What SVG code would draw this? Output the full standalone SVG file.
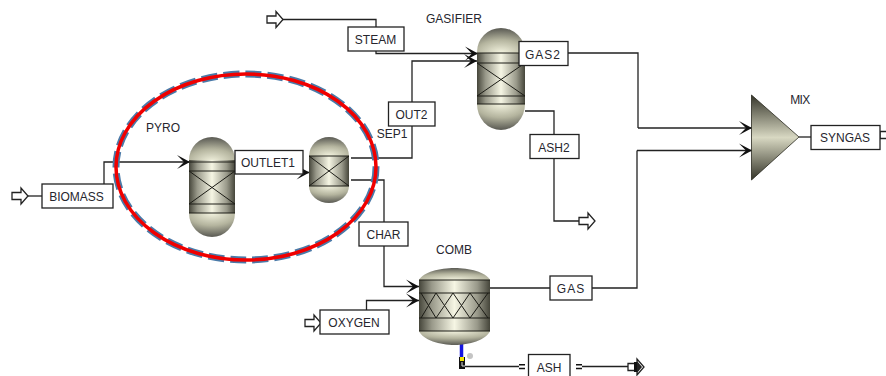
<svg xmlns="http://www.w3.org/2000/svg" width="886" height="376" viewBox="0 0 886 376">
<style>
text{font-family:"Liberation Sans",Arial,sans-serif;font-size:12px;fill:#26262e;text-anchor:middle}
.box{fill:#fff;stroke:#222;stroke-width:1.3}
.ln{fill:none;stroke:#222;stroke-width:1.3}
.arr{marker-end:url(#head)}
.body{fill:url(#metal);stroke:none}
.top{fill:url(#domeTop)}
.bot{fill:url(#domeBot)}
.band{fill:none;stroke:#1c1c16;stroke-width:1}
.open{fill:#fff;stroke:#222;stroke-width:1.3}
.wide{letter-spacing:1px}
</style>
<defs>
<linearGradient id="metal" x1="0" y1="0" x2="1" y2="0">
<stop offset="0" stop-color="#45453a"/><stop offset=".18" stop-color="#99998a"/><stop offset=".5" stop-color="#f6f6e4"/><stop offset=".82" stop-color="#99998a"/><stop offset="1" stop-color="#45453a"/>
</linearGradient>
<radialGradient id="domeTop" cx=".5" cy="1" r=".95">
<stop offset="0" stop-color="#f4f4e0"/><stop offset=".55" stop-color="#b4b49e"/><stop offset="1" stop-color="#62625a"/>
</radialGradient>
<radialGradient id="domeBot" cx=".5" cy="0" r=".95">
<stop offset="0" stop-color="#f4f4e0"/><stop offset=".55" stop-color="#b4b49e"/><stop offset="1" stop-color="#62625a"/>
</radialGradient>
<linearGradient id="tri" x1="0" y1="0" x2="0" y2="1">
<stop offset="0" stop-color="#35352a"/><stop offset=".5" stop-color="#d8d8c2"/><stop offset="1" stop-color="#35352a"/>
</linearGradient>
<marker id="head" markerUnits="userSpaceOnUse" markerWidth="16" markerHeight="16" refX="14" refY="8" orient="auto">
<path d="M14 8L1 1L8 8L1 15Z" fill="#111"/>
</marker>
<path id="openArrow" d="M0 -3.500H9V-8L16 0L9 8V3.500H0Z"/>
</defs>

<g id="connectors">
<path class="ln" d="M27 196H42"/>
<path class="ln arr" d="M104 184V162H190"/>
<path class="ln arr" d="M235 172.500H309.500"/>
<path class="ln" d="M281 19.500H376V27"/>
<path class="ln arr" d="M376 51V53.500H478"/>
<path class="ln arr" d="M351 158H412V61H477"/>
<path class="ln" d="M525 53H638V128"/>
<path class="ln arr" d="M638 128H752"/>
<path class="ln" d="M525 111H554V221H579"/>
<path class="ln" d="M351 180H384V222"/>
<path class="ln arr" d="M384 246V286.500H419"/>
<path class="ln arr" d="M366.500 310V300.500H419"/>
<path class="ln" d="M490 288H637V150.500"/>
<path class="ln arr" d="M637 150.500H752"/>
<path class="ln" d="M799 137H811"/>
<path class="ln" d="M465 366.500H519M582 366.500H628"/>
<path d="M519 364.800h6M519 368.500h6M576 364.800h6M576 368.500h6" fill="none" stroke="#111" stroke-width="1.600"/>
<path d="M461.500 342V357" fill="none" stroke="#1414e0" stroke-width="3.500"/>
<path d="M459 357h6v12h-6z" fill="#111"/>
<rect x="460" y="357" width="4" height="4" fill="#f2e500"/>
<path d="M462 362v4h3" fill="none" stroke="#ddd" stroke-width="1"/>
<circle cx="470" cy="356" r="3" fill="#c4c4c4"/>
</g>

<g id="biomass-feed"><use href="#openArrow" x="12" y="196" class="open"/></g>
<g id="steam-feed"><use href="#openArrow" x="267" y="19.500" class="open"/></g>
<g id="ash2-out"><use href="#openArrow" x="579" y="221" class="open"/></g>
<g id="oxygen-feed"><use href="#openArrow" x="305" y="323" class="open"/></g>
<g id="ash-out"><use href="#openArrow" x="628" y="367" class="open"/><path d="M634 362h3.500v10H634z" fill="#111"/><path d="M637 361l5 6l-5 6z" fill="#222"/></g>
<g id="syngas-out"><use href="#openArrow" x="880" y="135" class="open"/></g>

<g id="PYRO">
<path class="top" d="M189 162V160A23 23 0 0 1 235 160V162Z"/>
<rect class="body" x="189" y="160" width="46" height="54"/>
<path class="bot" d="M189 213A23 24 0 0 0 235 213Z"/>
<path class="band" d="M189 162H235M189 171H235M189 204H235M189 213H235M189 171L235 204M235 171L189 204"/>
<text x="163" y="132">PYRO</text>
</g>

<g id="SEP1">
<path class="top" d="M309 156A20 19 0 0 1 349 156Z"/>
<rect class="body" x="309" y="156" width="40" height="30"/>
<path class="bot" d="M309 186A20 17 0 0 0 349 186Z"/>
<path class="band" d="M309 156H349M309 186H349M309 156L349 186M349 156L309 186"/>
<text x="392" y="138">SEP1</text>
</g>

<g id="GASIFIER">
<path class="top" d="M477 53V52A24 24 0 0 1 525 52V53Z"/>
<rect class="body" x="477" y="53" width="48" height="51"/>
<path class="bot" d="M477 104A24 26 0 0 0 525 104Z"/>
<path class="band" d="M477 53H525M477 63H525M477 96H525M477 104H525M477 63L525 96M525 63L477 96"/>
<text x="454" y="23">GASIFIER</text>
</g>

<g id="COMB">
<path class="top" d="M419 280C423 272 440 268 454.500 268S486 272 490 280Z"/>
<rect class="body" x="419" y="280" width="71" height="51"/>
<path class="bot" d="M419 331C423 340 440 345 454.500 345S486 340 490 331Z"/>
<path class="band" d="M419 280H490M419 293H490M419 318H490M419 331H490"/>
<path class="band" d="M421 293L436 318L453 293L470 318L488 293M421 318L436 293L453 318L470 293L488 318"/>
<text x="454" y="254">COMB</text>
</g>

<g id="MIX">
<path d="M751.500 95L799 137L751.500 180Z" fill="url(#tri)" stroke="#2a2a20" stroke-width=".8"/>
<text x="800" y="104" style="letter-spacing:-.6px">MIX</text>
</g>

<g id="BIOMASS"><rect class="box" x="42" y="184" width="71" height="24"/><text x="76.500" y="201">BIOMASS</text></g>
<g id="OUTLET1"><rect class="box" x="235" y="150.500" width="68" height="23.500"/><text x="268" y="167">OUTLET1</text></g>
<g id="STEAM"><rect class="box" x="348" y="27" width="56" height="24"/><text x="375.500" y="44">STEAM</text></g>
<g id="OUT2"><rect class="box" x="388.500" y="102" width="46.500" height="24"/><text x="411.500" y="119">OUT2</text></g>
<g id="GAS2"><rect class="box" x="519" y="41.500" width="49" height="24"/><text class="wide" x="543" y="58.500">GAS2</text></g>
<g id="ASH2"><rect class="box" x="530" y="134.500" width="49" height="24"/><text x="554" y="151.500">ASH2</text></g>
<g id="CHAR"><rect class="box" x="359" y="222" width="49" height="24"/><text x="383.500" y="239">CHAR</text></g>
<g id="OXYGEN"><rect class="box" x="320" y="310" width="69" height="24"/><text x="354" y="327">OXYGEN</text></g>
<g id="GAS"><rect class="box" x="550" y="276" width="42" height="24"/><text class="wide" x="571" y="293">GAS</text></g>
<g id="ASH"><rect class="box" x="528.500" y="354.500" width="41.500" height="24"/><text x="549" y="371.500">ASH</text></g>
<g id="SYNGAS"><rect class="box" x="811" y="125.500" width="69" height="24"/><text x="845" y="142">SYNGAS</text></g>

<g id="highlight">
<ellipse cx="246" cy="167" rx="130" ry="93" fill="none" stroke="#4a7aa8" stroke-width="7" stroke-dasharray="16 6"/>
<ellipse cx="246" cy="167" rx="130" ry="93" fill="none" stroke="#f00000" stroke-width="3.500"/>
</g>
</svg>
